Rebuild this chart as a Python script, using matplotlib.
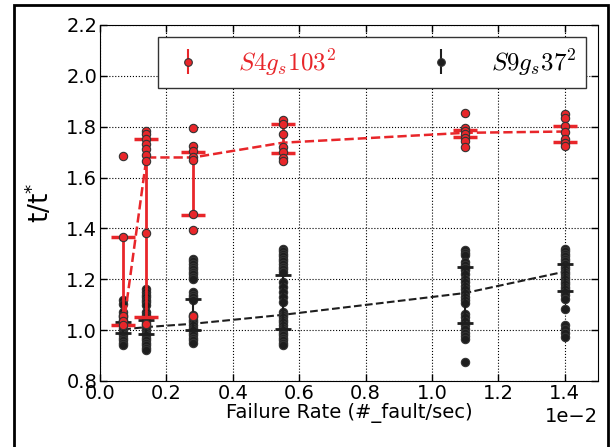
import matplotlib
matplotlib.use("Agg")
import matplotlib.pyplot as plt
from matplotlib.patches import Rectangle
from matplotlib.font_manager import FontProperties
import numpy as np

# failure rates (#fault/sec)
rates = [0.0007, 0.0014, 0.0028, 0.0055, 0.011, 0.014]

# S4 g_s 103^2 : individual runs, line values, error bar ends
s4_runs = [
    [1.685, 1.365, 1.055, 1.035, 1.02],
    [1.783, 1.77, 1.75, 1.731, 1.711, 1.69, 1.667, 1.38, 1.025],
    [1.796, 1.725, 1.705, 1.68, 1.67, 1.455, 1.394, 1.055],
    [1.825, 1.812, 1.77, 1.72, 1.70, 1.678, 1.665],
    [1.855, 1.795, 1.783, 1.77, 1.757, 1.744, 1.72],
    [1.848, 1.835, 1.803, 1.78, 1.75, 1.737, 1.724],
]
s4_line = [1.01, 1.679, 1.679, 1.737, 1.776, 1.781]
s4_lo = [1.022, 1.052, 1.453, 1.698, 1.761, 1.741]
s4_hi = [1.365, 1.750, 1.700, 1.812, 1.787, 1.802]

# S9 g_s 37^2
s9_runs = [
    [1.117, 1.104, 1.07, 1.06, 1.05, 1.04, 1.03, 1.02, 1.01, 1.0, 0.99, 0.98,
     0.97, 0.96, 0.95, 0.94],
    [1.163, 1.15, 1.14, 1.13, 1.12, 1.11, 1.10, 1.07, 1.06, 1.05, 1.04, 1.03,
     1.02, 1.01, 1.0, 0.99, 0.98, 0.97, 0.96, 0.95, 0.94, 0.93, 0.92],
    [1.28, 1.27, 1.26, 1.25, 1.24, 1.23, 1.22, 1.21, 1.20, 1.15, 1.14, 1.13,
     1.12, 1.06, 1.05, 1.04, 1.03, 1.02, 1.01, 1.0, 0.99, 0.98, 0.97, 0.96, 0.95],
    [1.32, 1.31, 1.30, 1.29, 1.28, 1.27, 1.26, 1.25, 1.24, 1.23, 1.19, 1.17,
     1.15, 1.13, 1.11, 1.07, 1.06, 1.05, 1.04, 1.03, 1.02, 1.01, 1.0, 0.99,
     0.98, 0.97, 0.96, 0.95, 0.94],
    [1.314, 1.304, 1.294, 1.268, 1.255, 1.245, 1.235, 1.222, 1.203, 1.19,
     1.175, 1.16, 1.145, 1.13, 1.118, 1.105, 1.065, 1.05, 1.035, 1.02, 1.005,
     0.99, 0.977, 0.967, 0.876],
    [1.32, 1.31, 1.30, 1.29, 1.28, 1.27, 1.26, 1.25, 1.24, 1.23, 1.22, 1.21,
     1.20, 1.19, 1.18, 1.17, 1.16, 1.15, 1.14, 1.124, 1.085, 1.02, 1.005, 0.99,
     0.974],
]
s9_line = [1.003, 1.012, 1.025, 1.06, 1.146, 1.23]
s9_lo = [0.987, 0.983, 1.0, 1.003, 1.029, 1.154]
s9_hi = [1.03, 1.038, 1.124, 1.216, 1.248, 1.261]

labels = [r'$S4g_s103^2$', r'$S9g_s37^2$']

RED = '#e8262a'
BLACK = '#1e1e1e'


def flatten(xs, runs):
    px, py = [], []
    for x, r in zip(xs, runs):
        px += [x] * len(r)
        py += r
    return px, py


def errs(lo, hi):
    lo = np.array(lo)
    hi = np.array(hi)
    return (lo + hi) / 2, (hi - lo) / 2


fig = plt.figure(figsize=(6.11, 4.47), dpi=100)
ax = fig.add_axes([0.1637, 0.1477, 0.815, 0.7964])

# black series first
ax.plot(rates, s9_line, '--', color=BLACK, lw=1.5, zorder=2)
mid, half = errs(s9_lo, s9_hi)
ax.errorbar(rates, mid, yerr=half, fmt='none', ecolor=BLACK, elinewidth=1.5,
            capsize=5.5, capthick=2, zorder=5)
px, py = flatten(rates, s9_runs)
ax.plot(px, py, 'o', ms=6, mfc=BLACK, mec='#333333', mew=0.8, zorder=4)

# red series
ax.plot(rates, s4_line, '--', color=RED, lw=1.8, zorder=6)
mid, half = errs(s4_lo, s4_hi)
ax.errorbar(rates, mid, yerr=half, fmt='none', ecolor=RED, elinewidth=2,
            capsize=8.5, capthick=2.5, zorder=7)
px, py = flatten(rates, s4_runs)
ax.plot(px, py, 'o', ms=6, mfc=RED, mec='#333333', mew=0.8, zorder=8)

# legend keys (empty errorbars, only used by the legend)
h4 = ax.errorbar([], [], yerr=[], fmt='o', color=RED, ms=5.5, mec='#333333',
                 mew=0.8, elinewidth=1.5, capsize=3, capthick=1.5)
h9 = ax.errorbar([], [], yerr=[], fmt='o', color=BLACK, ms=5.5, mec='#333333',
                 mew=0.8, elinewidth=1.5, capsize=3, capthick=1.5)

ax.set_xlim(0, 0.015)
ax.set_ylim(0.8, 2.2)
ax.set_xticks(np.arange(0, 0.0141, 0.002))
ax.set_yticks(np.arange(0.8, 2.21, 0.2))
ax.ticklabel_format(style='sci', axis='x', scilimits=(0, 0))
ax.xaxis.get_offset_text().set_fontsize(14)
ax.tick_params(direction='in', top=True, right=True, length=5, width=1,
               labelsize=14, pad=2)
ax.grid(True, linestyle=':', color='black', lw=0.8)

ax.set_xlabel('Failure Rate (#_fault/sec)', fontsize=14, labelpad=0)
ax.set_ylabel(r'$\mathrm{t/t^{*}}$', fontsize=19, labelpad=8,
              math_fontfamily='dejavusans')

leg_font = FontProperties(size=18, math_fontfamily='cm')
leg = ax.legend([h4, h9], labels,
                ncol=2, mode='expand', loc='upper left',
                bbox_to_anchor=(0.117, 0.815, 0.859, 0.151),
                borderaxespad=0, prop=leg_font, fancybox=False,
                edgecolor='#333333', framealpha=1, handlelength=1.6,
                borderpad=0.4, handletextpad=1.2)
leg.get_frame().set_linewidth(1)
leg.get_texts()[0].set_color(RED)

# outer frame of the figure (cut at the bottom)
fig.patches.append(Rectangle((0.0229, -0.1), 0.9721, 1.0888, transform=fig.transFigure,
                             fill=False, edgecolor='black', lw=2))

fig.savefig('out.png', dpi=100)
